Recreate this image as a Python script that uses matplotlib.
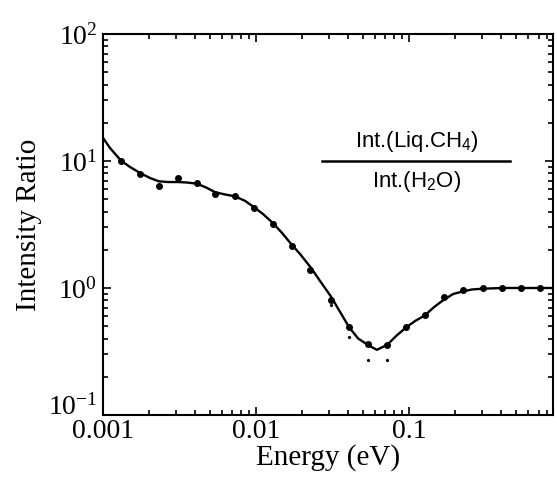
import matplotlib
matplotlib.use("Agg")
import matplotlib.pyplot as plt
from matplotlib.ticker import (FixedLocator, FixedFormatter, LogLocator, NullFormatter,
                               LogFormatterSciNotation)
from matplotlib.lines import Line2D

plt.rcParams['font.family'] = ['Liberation Serif', 'DejaVu Serif']
plt.rcParams['mathtext.default'] = 'regular'

# measured points (energy in eV, intensity ratio)
point_energy = [0.00131, 0.00175, 0.00231, 0.00309, 0.00409, 0.00542, 0.00729,
                0.00970, 0.01285, 0.01706, 0.02254, 0.03076, 0.04055, 0.05420,
                0.07211, 0.09550, 0.1268, 0.1687, 0.2254, 0.3013, 0.4036,
                0.5370, 0.7178]
point_ratio = [10.0, 7.9, 6.32, 7.35, 6.71, 5.53, 5.27,
               4.27, 3.19, 2.16, 1.39, 0.809, 0.493, 0.362,
               0.358, 0.491, 0.616, 0.845, 0.97, 0.995, 1.0,
               0.995, 0.995]

# faint low dots below the dip
low_energy = [0.0308, 0.0406, 0.0542, 0.0721]
low_ratio = [0.739, 0.411, 0.272, 0.272]

# fitted curve
curve_energy = [0.001, 0.001111, 0.001312, 0.001501, 0.001746, 0.002028, 0.002312,
                0.00266, 0.00309, 0.00354, 0.00410, 0.00471, 0.00542, 0.00627,
                0.00729, 0.00848, 0.00971, 0.01111, 0.01286, 0.01479, 0.01706,
                0.01939, 0.02287, 0.02618, 0.03076, 0.03540, 0.04055, 0.04642,
                0.0542, 0.0615, 0.0721, 0.0822, 0.0956, 0.1094, 0.1266, 0.1457,
                0.1686, 0.1939, 0.2254, 0.258, 0.301, 0.404, 0.873]
curve_ratio = [15.2, 12.66, 10.06, 8.97, 8.05, 7.35, 6.92,
               6.83, 6.83, 6.77, 6.63, 6.19, 5.67, 5.45,
               5.27, 4.85, 4.32, 3.82, 3.25, 2.71, 2.20,
               1.85, 1.44, 1.135, 0.861, 0.647, 0.49, 0.40,
               0.354, 0.326, 0.358, 0.419, 0.49, 0.55, 0.609, 0.709,
               0.809, 0.897, 0.942, 0.974, 0.987, 1.0, 1.0]

x_ticks = [0.001, 0.01, 0.1]
x_tick_labels = ["0.001", "0.01", "0.1"]
y_ticks = [0.1, 1, 10, 100]

fig = plt.figure(figsize=(5.57, 4.83), dpi=100)
ax = fig.add_axes([103/557, 1 - 415/483, (553 - 103)/557, (415 - 34)/483])

ax.plot(curve_energy, curve_ratio, color='black', lw=1.7, solid_joinstyle='round')
ax.plot(point_energy, point_ratio, 'o', color='black', ms=4.0, mec='black')
ax.plot(low_energy, low_ratio, 'o', color='black', ms=1.3)

ax.set_xscale('log')
ax.set_yscale('log')
ax.set_xlim(0.001, 0.87)
ax.set_ylim(0.1, 100)

ax.xaxis.set_major_locator(FixedLocator(x_ticks))
ax.xaxis.set_major_formatter(FixedFormatter(x_tick_labels))
ax.xaxis.set_minor_locator(LogLocator(base=10, subs=range(2, 10), numticks=20))
ax.xaxis.set_minor_formatter(NullFormatter())
ax.yaxis.set_major_locator(FixedLocator(y_ticks))
ax.yaxis.set_major_formatter(LogFormatterSciNotation())
ax.yaxis.set_minor_locator(LogLocator(base=10, subs=range(2, 10), numticks=20))
ax.yaxis.set_minor_formatter(NullFormatter())

ax.tick_params(which='both', direction='in', top=True, right=True, width=1.2)
ax.tick_params(which='major', length=6, labelsize=20)
ax.tick_params(axis='x', which='major', pad=3)
ax.tick_params(axis='y', which='major', pad=4)
ax.tick_params(which='minor', length=3.5)
fig.canvas.draw()
for tick in ax.yaxis.get_major_ticks():
    if abs(tick.get_loc() - 0.1) < 1e-9:
        tick.label1.set_verticalalignment('baseline')
    else:
        tick.label1.set_verticalalignment('center_baseline')
for s in ax.spines.values():
    s.set_linewidth(1.5)

ax.set_xlabel('Energy (eV)', fontsize=21, labelpad=0)
ax.set_ylabel('Intensity Ratio', fontsize=21, labelpad=4)

fig.text(417/557, 1 - 141/483, 'Int.(Liq.CH$_4$)', family='Liberation Sans',
         fontsize=16, ha='center', va='center')
fig.text(417/557, 1 - 181/483, 'Int.(H$_2$O)', family='Liberation Sans',
         fontsize=16, ha='center', va='center')
fig.add_artist(Line2D([322/557, 510/557], [1 - 161/483, 1 - 161/483],
                      transform=fig.transFigure, color='black', lw=1.8))

fig.savefig('out.png', dpi=100)
